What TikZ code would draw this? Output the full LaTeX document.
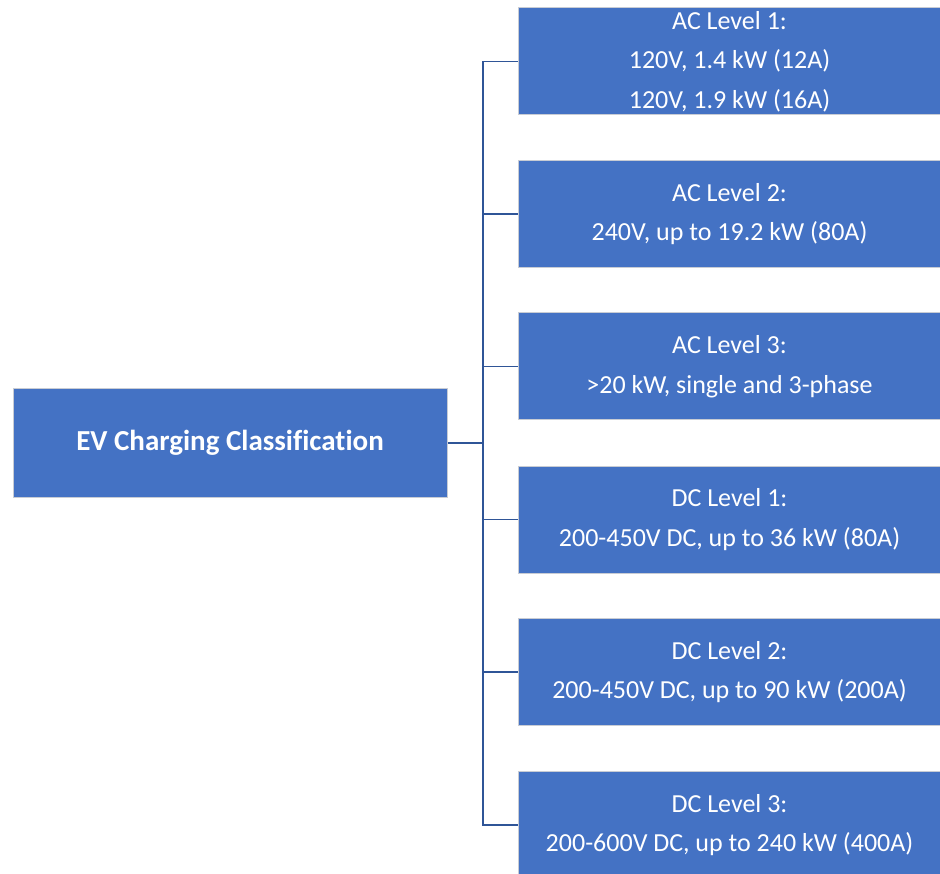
\documentclass[tikz,border=0pt]{standalone}
\usepackage{fontspec}
\setmainfont{Carlito}[Ligatures={NoCommon}]
\definecolor{boxblue}{HTML}{4472C4}
\definecolor{boxedge}{HTML}{C8CCD4}
\definecolor{linkblue}{HTML}{2F5597}
\begin{document}
\begin{tikzpicture}[x=1pt,y=-1pt,
  levelbox/.style={rectangle, fill=boxblue, draw=boxedge, line width=1pt,
    minimum width=423pt, minimum height=107pt, inner sep=0pt,
    text=white, align=center, font=\fontsize{26}{39.5}\selectfont},
  rootbox/.style={levelbox, minimum width=434pt, minimum height=108pt,
    font=\fontsize{29}{39.5}\selectfont\bfseries},
  link/.style={draw=linkblue, line width=1.5pt}]
\useasboundingbox (0,0) rectangle (940,874);
\clip (0,0) rectangle (940,874);

% root node and the six charging classes
\node[rootbox] (root) at (230,443) {EV Charging Classification};
\node[levelbox] (ac1) at (729.5,61.5) {AC Level 1:\\120V, 1.4 kW (12A)\\120V, 1.9 kW (16A)};
\node[levelbox] (ac2) at (729.5,214) {AC Level 2:\\240V, up to 19.2 kW (80A)};
\node[levelbox] (ac3) at (729.5,366.5) {AC Level 3:\\>20 kW, single and 3-phase};
\node[levelbox] (dc1) at (729.5,519.5) {DC Level 1:\\200-450V DC, up to 36 kW (80A)};
\node[levelbox] (dc2) at (729.5,672) {DC Level 2:\\200-450V DC, up to 90 kW (200A)};
\node[levelbox] (dc3) at (729.5,825) {DC Level 3:\\200-600V DC, up to 240 kW (400A)};

% tree connectors
\coordinate (trunk) at (483,443);
\draw[link] (root.east) -- (trunk);
\foreach \n in {ac1,ac2,ac3,dc1,dc2,dc3}
  \draw[link] (trunk) |- (\n.west);
\end{tikzpicture}
\end{document}
